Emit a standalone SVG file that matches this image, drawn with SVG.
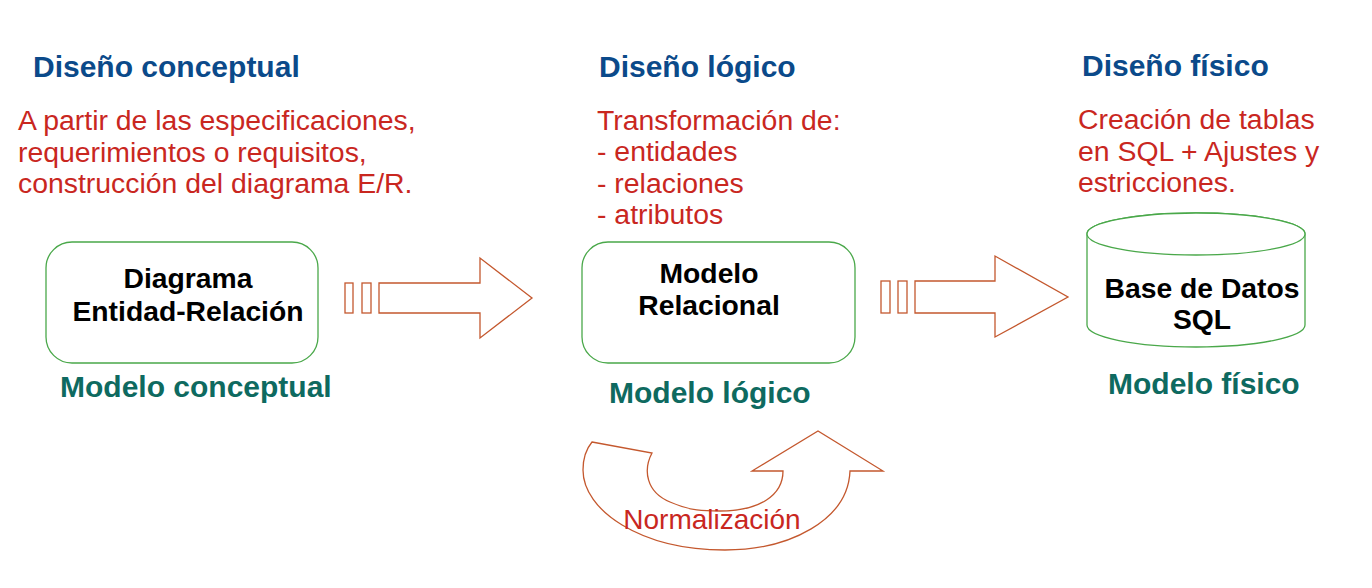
<svg xmlns="http://www.w3.org/2000/svg" width="1372" height="588" viewBox="0 0 1372 588">
<style>
.h{font-family:"Liberation Sans",Arial,sans-serif;font-weight:bold;font-size:30px;fill:#0b4a8a}
.r{font-family:"Liberation Sans",Arial,sans-serif;font-size:28.4px;fill:#c9271f}
.g{font-family:"Liberation Sans",Arial,sans-serif;font-weight:bold;font-size:30px;fill:#0e6a60}
.b{font-family:"Liberation Sans",Arial,sans-serif;font-weight:bold;font-size:28.3px;fill:#000;text-anchor:middle}
.box{fill:#fff;stroke:#4aa84a;stroke-width:1.3}
.arr{fill:#fff;stroke:#c4582e;stroke-width:1.3;stroke-linejoin:miter}
</style>
<rect width="1372" height="588" fill="#fff"/>
<g id="headings">
<text class="h" x="33" y="77">Diseño conceptual</text>
<text class="h" x="599" y="77">Diseño lógico</text>
<text class="h" x="1082" y="76">Diseño físico</text>
</g>
<g id="desc-conceptual">
<text class="r" x="18" y="130">A partir de las especificaciones,</text>
<text class="r" x="18" y="162">requerimientos o requisitos,</text>
<text class="r" x="18" y="193">construcción del diagrama E/R.</text>
</g>
<g id="desc-logico">
<text class="r" x="597" y="130">Transformación de:</text>
<text class="r" x="597" y="161">- entidades</text>
<text class="r" x="597" y="193">- relaciones</text>
<text class="r" x="597" y="224">- atributos</text>
</g>
<g id="desc-fisico">
<text class="r" x="1078" y="129">Creación de tablas</text>
<text class="r" x="1078" y="161">en SQL + Ajustes y</text>
<text class="r" x="1078" y="192">estricciones.</text>
</g>
<g id="node-er">
<rect class="box" x="46" y="242" width="272" height="121" rx="26"/>
<text class="b" x="188" y="288">Diagrama</text>
<text class="b" x="188" y="321">Entidad-Relación</text>
</g>
<g id="node-relacional">
<rect class="box" x="582" y="242" width="273" height="121" rx="26"/>
<text class="b" x="709" y="283">Modelo</text>
<text class="b" x="709" y="315">Relacional</text>
</g>
<g id="node-bd">
<path class="box" d="M1087,234 L1087,325 A109,22 0 0 0 1305,325 L1305,234 A109,21 0 0 0 1087,234 Z"/>
<ellipse class="box" cx="1196" cy="234" rx="109" ry="21" fill="none"/>
<text class="b" x="1202" y="298">Base de Datos</text>
<text class="b" x="1202" y="329">SQL</text>
</g>
<g id="labels">
<text class="g" x="60" y="397">Modelo conceptual</text>
<text class="g" x="609" y="403">Modelo lógico</text>
<text class="g" x="1108" y="394">Modelo físico</text>
</g>
<g id="connectors">
<rect class="arr" x="345" y="283" width="8" height="30"/>
<rect class="arr" x="362" y="283" width="9" height="30"/>
<path class="arr" d="M379,283 L480,283 L480,258 L532,298 L480,338 L480,313 L379,313 Z"/>
<rect class="arr" x="881" y="281" width="9" height="32"/>
<rect class="arr" x="898" y="281" width="9" height="32"/>
<path class="arr" d="M915,281 L995,281 L995,256 L1068,297 L995,337 L995,313 L915,313 Z"/>
<path class="arr" d="M592,442 L652,453 C643,470 646,492 670,502 C690,511 705,511 720,511 C760,511 783,495 783,471 L752,471 L818,431 L883,471 L850,471 C848,520 790,550 725,550 C640,550 583,510 583,470 C583,457 587,448 592,442 Z"/>
<text class="r" x="712" y="529" text-anchor="middle" style="font-size:28px">Normalización</text>
</g>
</svg>
